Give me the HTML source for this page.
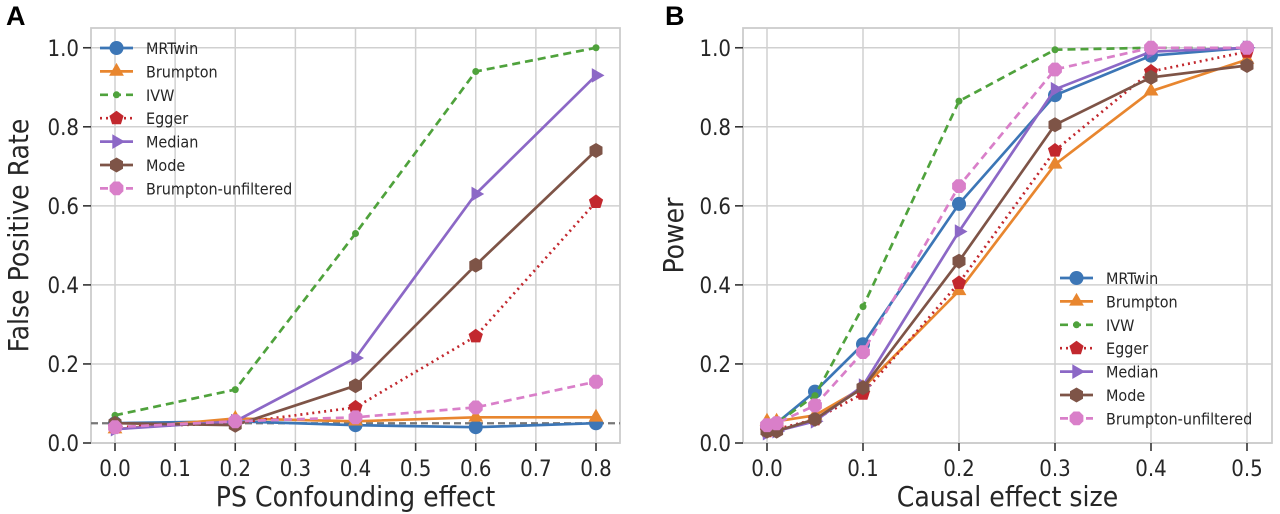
<!DOCTYPE html>
<html><head><meta charset="utf-8">
<style>
html,body{margin:0;padding:0;background:#fff;}
svg{display:block;font-family:"DejaVu Sans Condensed","DejaVu Sans","Liberation Sans",sans-serif;font-stretch:condensed;}
</style></head>
<body>
<svg id="fig" width="1280" height="514" viewBox="0 0 1280 514"></svg>
<script>
const seriesNames = ["MRTwin","Brumpton","IVW","Egger","Median","Mode","Brumpton-unfiltered"];
const colors = ["#3c76b6","#e8862f","#4fa23c","#c2282e","#8c68c6","#7e5447","#d97fc9"];
const dashes = ["","","8,5","2,4","","","8,5"];
const markers = ["circle","triangle","smalldot","pentagon","tri-right","hexagon","octagon"];

const xA = [0,0.2,0.4,0.6,0.8];
const aMRTwin = [0.05,0.055,0.045,0.04,0.05];
const aBrumpton = [0.035,0.062,0.055,0.065,0.065];
const aIVW = [0.07,0.135,0.53,0.94,1.0];
const aEgger = [0.04,0.05,0.09,0.27,0.61];
const aMedian = [0.035,0.055,0.215,0.63,0.93];
const aMode = [0.05,0.045,0.145,0.45,0.74];
const aBU = [0.04,0.055,0.065,0.09,0.155];
const xTicksA = [0,0.1,0.2,0.3,0.4,0.5,0.6,0.7,0.8];

const xB = [0,0.01,0.05,0.1,0.2,0.3,0.4,0.5];
const bMRTwin = [0.04,0.05,0.13,0.25,0.605,0.88,0.98,1.0];
const bBrumpton = [0.055,0.055,0.07,0.14,0.385,0.705,0.89,0.97];
const bIVW = [0.04,0.05,0.12,0.345,0.865,0.995,1.0,1.0];
const bEgger = [0.03,0.035,0.06,0.125,0.405,0.74,0.94,0.99];
const bMedian = [0.025,0.03,0.055,0.145,0.535,0.895,0.99,1.0];
const bMode = [0.03,0.03,0.06,0.14,0.46,0.805,0.925,0.955];
const bBU = [0.045,0.05,0.095,0.23,0.65,0.945,1.0,1.0];
const xTicksB = [0,0.1,0.2,0.3,0.4,0.5];
const yTicks = [0,0.2,0.4,0.6,0.8,1.0];

const NS="http://www.w3.org/2000/svg";
const svg=document.getElementById('fig');
function mk(tag,attrs,parent){const e=document.createElementNS(NS,tag);for(const k in attrs)e.setAttribute(k,attrs[k]);(parent||svg).appendChild(e);return e;}

function marker(g,type,cx,cy,color){
  let e;
  if(type==="circle"){e=mk('circle',{cx,cy,r:7,fill:color},g);}
  else if(type==="smalldot"){e=mk('circle',{cx,cy,r:3.5,fill:color},g);}
  else{
    let n,r,rot;
    if(type==="triangle"){n=3;r=8.5;rot=-90;}
    else if(type==="tri-right"){n=3;r=8.5;rot=0;}
    else if(type==="pentagon"){n=5;r=7.5;rot=-90;}
    else if(type==="hexagon"){n=6;r=7.5;rot=-90;}
    else {n=8;r=7.5;rot=22.5;}
    const pts=[];for(let i=0;i<n;i++){const a=(rot+i*360/n)*Math.PI/180;pts.push((cx+r*Math.cos(a)).toFixed(1)+','+(cy+r*Math.sin(a)).toFixed(1));}
    e=mk('polygon',{points:pts.join(' '),fill:color},g);
  }
  
  
}

function panel(cfg){
  const {id,left,right,top,bottom,x0px,x1px,xmin,xmax,xTicks,xs,series,xlabel,ylabel,ylabelX,legX,legY,letter,letterX,hline}=cfg;
  const X=v=>x0px+(v-xmin)/(xmax-xmin)*(x1px-x0px);
  const Y=v=>bottom-v/1.05*(bottom-top);
  const g=mk('g',{});
  
  
  xTicks.forEach(t=>{const l=mk('line',{x1:X(t),x2:X(t),y1:top,y2:bottom,stroke:'#d0d0d0','stroke-width':1.5},g);});
  yTicks.forEach(t=>{const l=mk('line',{x1:left,x2:right,y1:Y(t),y2:Y(t),stroke:'#d0d0d0','stroke-width':1.5},g);});
  const box=mk('rect',{x:left,y:top,width:right-left,height:bottom-top,fill:'none',stroke:'#cccccc','stroke-width':1.8},g);
  
  xTicks.forEach(t=>{mk('line',{x1:X(t),x2:X(t),y1:bottom,y2:bottom+8,stroke:'#333','stroke-width':1.6},g);
    const tx=mk('text',{x:X(t),y:bottom+33,'text-anchor':'middle','font-size':22,fill:'#262626'},g);tx.textContent=t.toFixed(1);
    });
  yTicks.forEach(t=>{mk('line',{x1:left-8,x2:left,y1:Y(t),y2:Y(t),stroke:'#333','stroke-width':1.6},g);
    const tx=mk('text',{x:left-12,y:Y(t)+8,'text-anchor':'end','font-size':22,fill:'#262626'},g);tx.textContent=t.toFixed(1);
    });
  const xl=mk('text',{x:(left+right)/2,y:bottom+63,'text-anchor':'middle','font-size':28,fill:'#262626'},g);xl.textContent=xlabel;
  
  const yl=mk('text',{x:ylabelX,y:(top+bottom)/2,'text-anchor':'middle','font-size':28,fill:'#262626',transform:`rotate(-90 ${ylabelX} ${(top+bottom)/2})`},g);yl.textContent=ylabel;
  
  const lt=mk('text',{x:letterX,y:25,'font-size':27,'font-weight':'bold',fill:'#000','font-family':'Liberation Sans, sans-serif','font-stretch':'normal'},g);lt.textContent=letter;
  
  if(hline!==undefined){const h=mk('line',{x1:left,x2:right,y1:Y(hline),y2:Y(hline),stroke:'#777','stroke-width':2.2,'stroke-dasharray':'7,4'},g);
    }
  series.forEach((vals,i)=>{
    const sg=mk('g',{},g);
    
    
    const pts=vals.map((v,j)=>X(xs[j]).toFixed(1)+','+Y(v).toFixed(1)).join(' ');
    const pl=mk('polyline',{points:pts,fill:'none',stroke:colors[i],'stroke-width':2.7,'stroke-dasharray':dashes[i]},sg);
    
    vals.forEach((v,j)=>marker(sg,markers[i],X(xs[j]),Y(v),colors[i]));
  });
  seriesNames.forEach((n,i)=>{
    const y=legY+i*23.4;
    const lg=mk('g',{},g);
    
    
    mk('line',{x1:legX,x2:legX+33,y1:y,y2:y,stroke:colors[i],'stroke-width':2.7,'stroke-dasharray':dashes[i]},lg);
    marker(lg,markers[i],legX+16.5,y,colors[i]);
    const t=mk('text',{x:legX+46,y:y+6,'font-size':16,fill:'#262626'},lg);t.textContent=n;
  });
}

panel({id:'panel-a',left:91,right:620,top:28,bottom:443,x0px:115,x1px:596,xmin:0,xmax:0.8,xTicks:xTicksA,xs:xA,
  series:[aMRTwin,aBrumpton,aIVW,aEgger,aMedian,aMode,aBU],xlabel:'PS Confounding effect',ylabel:'False Positive Rate',ylabelX:28,
  legX:100,legY:48,letter:'A',letterX:6,hline:0.05});
panel({id:'panel-b',left:743,right:1272,top:28,bottom:443,x0px:767,x1px:1247,xmin:0,xmax:0.5,xTicks:xTicksB,xs:xB,
  series:[bMRTwin,bBrumpton,bIVW,bEgger,bMedian,bMode,bBU],xlabel:'Causal effect size',ylabel:'Power',ylabelX:683,
  legX:1060,legY:278,letter:'B',letterX:665});
</script>
</body></html>
